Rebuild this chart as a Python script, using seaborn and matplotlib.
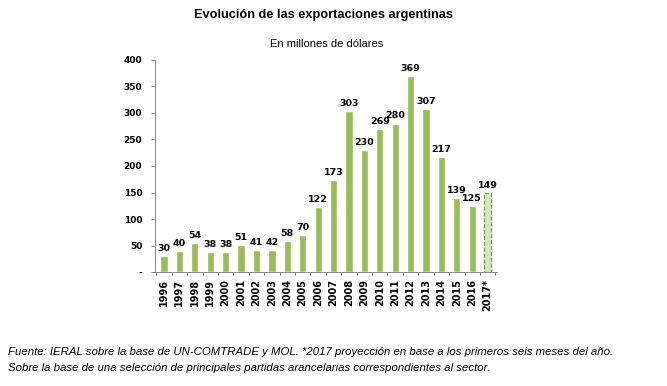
import matplotlib
matplotlib.use("Agg")
import matplotlib.pyplot as plt
import seaborn as sns
import numpy as np

# Datos
anios = ['1996', '1997', '1998', '1999', '2000', '2001', '2002', '2003', '2004',
         '2005', '2006', '2007', '2008', '2009', '2010', '2011', '2012', '2013',
         '2014', '2015', '2016', '2017*']
valores = [30, 40, 54, 38, 38, 51, 41, 42, 58, 70, 122, 173, 303, 230, 269,
           280, 369, 307, 217, 139, 125, 149]

VERDE = '#9BBB59'
VERDE_CLARO = '#D7E4BD'
VERDE_OSCURO = '#77933C'

sns.set_style('white')
plt.rcParams['font.family'] = ['Liberation Sans', 'DejaVu Sans']
plt.rcParams['text.color'] = 'black'
plt.rcParams['xtick.color'] = 'black'
plt.rcParams['ytick.color'] = 'black'

fig = plt.figure(figsize=(6.67, 3.86), dpi=100)
ax = fig.add_axes([0.232, 0.295, 0.513, 0.55])

colores = [VERDE] * (len(anios) - 1) + [VERDE_CLARO]
sns.barplot(x=anios, y=valores, palette=colores, hue=anios, legend=False,
            width=0.47, ax=ax, saturation=1)

# ultima barra proyectada: borde punteado
ultima = ax.patches[-1]
ultima.set_edgecolor(VERDE_OSCURO)
ultima.set_linestyle('--')
ultima.set_linewidth(0.8)

for i, v in enumerate(valores):
    ax.text(i, v + 6, str(v), ha='center', va='bottom', fontsize=6.8,
            fontweight='bold', family='DejaVu Sans', color='black')

ax.set_ylim(0, 400)
ax.set_xlim(-0.6, len(anios) - 0.4)
ax.set_yticks(range(0, 401, 50))
ax.set_yticklabels(['-'] + [str(t) for t in range(50, 401, 50)],
                   fontsize=6.5, fontweight='bold', family='DejaVu Sans')

# ticks de x entre categorias
ax.set_xticks(np.arange(len(anios)))
ax.set_xticklabels(anios, rotation=90, fontsize=7, fontweight='bold',
                   family='DejaVu Sans')
ax.tick_params(axis='x', length=0, pad=5)
for xb in np.arange(-0.5, len(anios), 1.0):
    ax.plot([xb, xb], [0, -6], color='#888888', lw=0.7, clip_on=False)

ax.tick_params(axis='y', length=3, width=0.7, color='#888888', direction='out', left=True, pad=6)
for s in ['top', 'right']:
    ax.spines[s].set_visible(False)
ax.spines['left'].set_color('#888888')
ax.spines['bottom'].set_color('#888888')
ax.spines['left'].set_linewidth(0.7)
ax.spines['bottom'].set_linewidth(0.7)
ax.set_xlabel('')
ax.set_ylabel('')

fig.text(0.485, 0.962, 'Evolución de las exportaciones argentinas', ha='center',
         va='center', fontsize=9.2, fontweight='bold')
fig.text(0.49, 0.886, 'En millones de dólares', ha='center', va='center', fontsize=8)

fig.text(0.012, 0.088, 'Fuente: IERAL sobre la base de UN-COMTRADE y MOL. *2017 proyección en base a los primeros seis meses del año.',
         ha='left', va='center', fontsize=8.2, style='italic')
fig.text(0.012, 0.046, 'Sobre la base de una selección de principales partidas arancelarias correspondientes al sector.',
         ha='left', va='center', fontsize=8.2, style='italic')

fig.savefig('out.png', dpi=100)
